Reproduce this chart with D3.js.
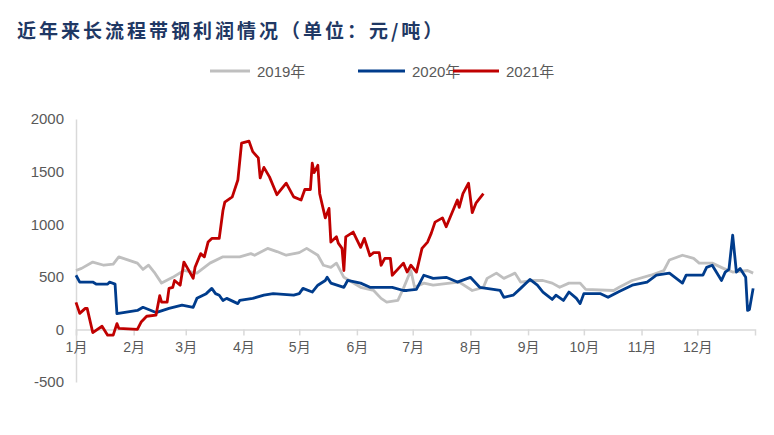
<!DOCTYPE html>
<html><head><meta charset="utf-8">
<script src="https://cdn.jsdelivr.net/npm/d3@7"></script>
<style>body{margin:0;background:#fff}</style></head>
<body><svg id="c" width="774" height="435"></svg>
<script>
const months = ["1月","2月","3月","4月","5月","6月","7月","8月","9月","10月","11月","12月"];
const monthStarts = [0,31,59,90,120,151,181,212,243,273,304,334];
const yTicks = [-500,0,500,1000,1500,2000];
const seriesNames = ["2019年","2020年","2021年"];
const colors = ["#bfbfbf","#003c8c","#c00000"];
// [day of year, profit]
const s2019 = [[0,560],[3,580],[9,640],[15,610],[20,620],[23,690],[33,630],[36,570],[39,610],[42,545],[46,440],[52,495],[58,560],[65,535],[72,630],[79,690],[88,690],[94,720],[96,705],[103,770],[108,740],[113,705],[120,730],[124,770],[130,705],[133,610],[137,590],[140,630],[144,495],[153,400],[160,370],[164,295],[167,260],[173,275],[176,390],[180,560],[182,400],[187,440],[192,420],[201,440],[206,450],[213,370],[219,400],[221,485],[226,535],[230,485],[236,535],[239,450],[246,465],[251,465],[256,440],[260,400],[265,440],[271,440],[274,380],[289,370],[292,400],[299,465],[309,515],[316,560],[319,660],[326,705],[332,675],[335,630],[342,630],[348,580],[353,545],[361,560],[364,535]];
const s2020 = [[0,515],[2,450],[9,450],[11,430],[17,430],[18,450],[21,430],[22,150],[33,180],[36,210],[43,160],[50,200],[57,230],[63,210],[65,295],[70,340],[73,390],[75,340],[77,325],[79,275],[81,295],[87,245],[88,275],[95,295],[101,325],[106,340],[117,325],[120,340],[122,390],[127,355],[130,420],[134,465],[135,495],[137,440],[144,400],[146,465],[153,440],[158,400],[170,400],[176,370],[178,370],[183,380],[187,515],[192,485],[199,495],[205,450],[212,495],[217,400],[228,370],[230,305],[235,325],[239,390],[244,475],[248,420],[251,355],[256,285],[258,325],[262,275],[265,355],[269,295],[271,245],[273,340],[282,340],[286,305],[292,360],[299,420],[307,450],[312,515],[319,535],[326,440],[328,515],[337,515],[339,590],[342,610],[347,465],[349,545],[351,570],[353,895],[355,545],[357,580],[360,495],[361,180],[362,190],[364,390]];
const s2021 = [[0,257],[2,152],[5,200],[6,200],[9,-30],[14,30],[17,-55],[20,-55],[22,55],[23,10],[33,0],[35,70],[38,125],[43,135],[45,320],[46,260],[49,260],[50,390],[52,400],[53,465],[56,420],[58,640],[60,580],[63,485],[64,590],[67,720],[69,690],[71,830],[73,865],[77,865],[79,1130],[80,1210],[84,1260],[87,1420],[89,1770],[93,1790],[95,1690],[98,1630],[99,1440],[101,1540],[104,1450],[108,1280],[113,1390],[117,1260],[121,1230],[123,1330],[126,1330],[127,1580],[128,1490],[130,1560],[131,1290],[134,1060],[136,1150],[137,830],[140,880],[141,820],[143,770],[144,560],[145,880],[149,925],[153,780],[155,865],[158,700],[160,730],[163,730],[164,610],[166,675],[169,675],[170,515],[176,630],[178,545],[180,610],[183,545],[186,770],[189,830],[191,915],[193,1020],[197,1060],[199,975],[205,1230],[206,1160],[208,1290],[211,1390],[213,1110],[215,1200],[219,1290]];
const data = [s2019,s2020,s2021];

const svg = d3.select("#c");
const x = d3.scaleLinear().domain([0,365]).range([76,755]);
const y = d3.scaleLinear().domain([-500,2000]).range([382,119]);
const font = "'Liberation Sans', Arial, 'Noto Sans CJK SC', sans-serif";

svg.append("text").attr("x",17).attr("y",38).text("近年来长流程带钢利润情况（单位：元/吨）")
  .attr("font-family","'Noto Sans CJK SC', serif").attr("font-weight","bold").attr("font-size",19)
  .attr("letter-spacing",3).attr("fill","#1f3864");

// legend
const lg = svg.append("g");
const lx = [[210,250],[358,405],[453,499]];
seriesNames.forEach((n,i)=>{
  lg.append("line").attr("x1",lx[i][0]).attr("x2",lx[i][1]).attr("y1",71).attr("y2",71).attr("stroke",colors[i]).attr("stroke-width",3);
  lg.append("text").attr("x",lx[i][1]+7).attr("y",77).text(n).attr("font-family",font).attr("font-size",15).attr("fill","#595959");
});

// y axis
const ya = svg.append("g").attr("transform","translate(76,0)")
  .call(d3.axisLeft(y).tickValues(yTicks).tickFormat(d=>String(d)).tickSize(0).tickPadding(12));
ya.select(".domain").attr("stroke","#d9d9d9").attr("stroke-width",1.5);
ya.selectAll("text").attr("font-family",font).attr("font-size",15).attr("fill","#595959");

// x axis at zero
const xa = svg.append("g").attr("transform",`translate(0,${y(0)})`)
  .call(d3.axisBottom(x).tickValues(monthStarts).tickFormat((d,i)=>months[i]).tickSize(6).tickPadding(7));
xa.select(".domain").attr("stroke","#d9d9d9").attr("stroke-width",1.5);
xa.selectAll(".tick line").attr("stroke","#d9d9d9").attr("stroke-width",1.5);
xa.selectAll("text").attr("font-family",font).attr("font-size",14).attr("fill","#595959");

const line = d3.line().x(d=>x(d[0])).y(d=>y(d[1]));
data.forEach((s,i)=>{
  svg.append("path").datum(s).attr("d",line).attr("fill","none")
    .attr("stroke",colors[i]).attr("stroke-width",2.8).attr("stroke-linejoin","round");
});
</script></body></html>
